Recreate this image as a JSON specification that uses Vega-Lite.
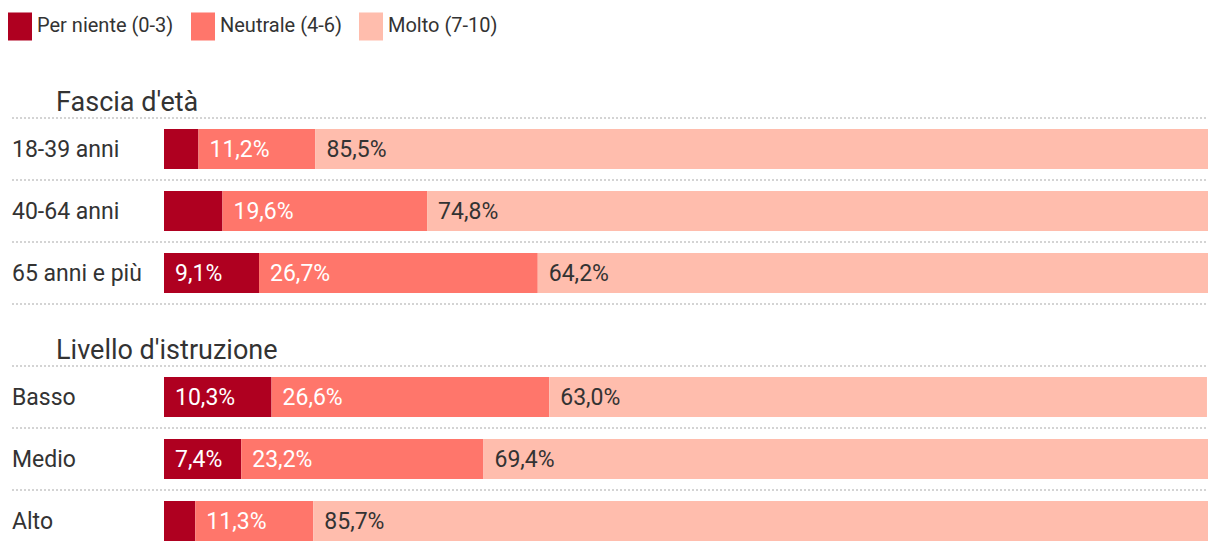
{
  "$schema": "https://vega.github.io/schema/vega-lite/v6.json",
  "width": 1220,
  "height": 496,
  "autosize": {"type": "none"},
  "padding": {"top": 56, "left": 0, "right": 0, "bottom": 2},
  "config": {
    "view": {"stroke": null},
    "font": "Roboto",
    "text": {"font": "Roboto"}
  },
  "datasets": {
    "rows": [
      {"row": "H1", "label": "Fascia d'età", "kind": "header"},
      {"row": "18-39 anni", "label": "18-39 anni", "kind": "item"},
      {"row": "40-64 anni", "label": "40-64 anni", "kind": "item"},
      {"row": "65 anni e più", "label": "65 anni e più", "kind": "item"},
      {"row": "H2", "label": "Livello d'istruzione", "kind": "header"},
      {"row": "Basso", "label": "Basso", "kind": "item"},
      {"row": "Medio", "label": "Medio", "kind": "item"},
      {"row": "Alto", "label": "Alto", "kind": "item"}
    ],
    "bars": [
      {"row": "18-39 anni", "cat": "Per niente (0-3)", "order": 1, "value": 3.3},
      {"row": "18-39 anni", "cat": "Neutrale (4-6)", "order": 2, "value": 11.2},
      {"row": "18-39 anni", "cat": "Molto (7-10)", "order": 3, "value": 85.5},
      {"row": "40-64 anni", "cat": "Per niente (0-3)", "order": 1, "value": 5.6},
      {"row": "40-64 anni", "cat": "Neutrale (4-6)", "order": 2, "value": 19.6},
      {"row": "40-64 anni", "cat": "Molto (7-10)", "order": 3, "value": 74.8},
      {"row": "65 anni e più", "cat": "Per niente (0-3)", "order": 1, "value": 9.1},
      {"row": "65 anni e più", "cat": "Neutrale (4-6)", "order": 2, "value": 26.7},
      {"row": "65 anni e più", "cat": "Molto (7-10)", "order": 3, "value": 64.2},
      {"row": "Basso", "cat": "Per niente (0-3)", "order": 1, "value": 10.3},
      {"row": "Basso", "cat": "Neutrale (4-6)", "order": 2, "value": 26.6},
      {"row": "Basso", "cat": "Molto (7-10)", "order": 3, "value": 63.0},
      {"row": "Medio", "cat": "Per niente (0-3)", "order": 1, "value": 7.4},
      {"row": "Medio", "cat": "Neutrale (4-6)", "order": 2, "value": 23.2},
      {"row": "Medio", "cat": "Molto (7-10)", "order": 3, "value": 69.4},
      {"row": "Alto", "cat": "Per niente (0-3)", "order": 1, "value": 3.0},
      {"row": "Alto", "cat": "Neutrale (4-6)", "order": 2, "value": 11.3},
      {"row": "Alto", "cat": "Molto (7-10)", "order": 3, "value": 85.7}
    ]
  },
  "resolve": {"scale": {"x": "shared", "y": "shared"}},
  "layer": [
    {
      "data": {"name": "rows"},
      "transform": [{"filter": "datum.row !== 'H1'"}],
      "mark": {"type": "rule", "stroke": "#d4d4d4", "strokeWidth": 2, "strokeDash": [2, 2]},
      "encoding": {
        "y": {"field": "row", "type": "nominal", "bandPosition": 0,
              "scale": {"domain": ["H1", "18-39 anni", "40-64 anni", "65 anni e più", "H2", "Basso", "Medio", "Alto"], "paddingInner": 0, "paddingOuter": 0},
              "axis": null},
        "x": {"datum": -14.56, "type": "quantitative",
              "scale": {"domain": [-15.709, 101.149], "nice": false, "zero": false}, "axis": null},
        "x2": {"datum": 100}
      }
    },
    {
      "data": {"name": "bars"},
      "transform": [
        {"stack": "value", "groupby": ["row"], "sort": [{"field": "order", "order": "ascending"}], "as": ["x0", "x1"]}
      ],
      "mark": {"type": "bar", "height": 40},
      "encoding": {
        "y": {"field": "row", "type": "nominal"},
        "x": {"field": "x0", "type": "quantitative"},
        "x2": {"field": "x1"},
        "color": {
          "field": "cat", "type": "nominal",
          "scale": {"domain": ["Per niente (0-3)", "Neutrale (4-6)", "Molto (7-10)"], "range": ["#af0020", "#ff766b", "#ffbdad"]},
          "legend": {
            "orient": "none", "legendX": 8, "legendY": -42, "direction": "horizontal",
            "title": null,
            "symbolType": "M-1,-1.167H1V1.167H-1Z", "symbolSize": 576,
            "symbolOpacity": 1, "symbolStrokeWidth": 0,
            "labelFont": "Roboto", "labelFontSize": 20, "labelColor": "#333333",
            "labelOffset": 5, "columnPadding": 17, "labelLimit": 300
          }
        }
      }
    },
    {
      "data": {"name": "bars"},
      "transform": [
        {"stack": "value", "groupby": ["row"], "sort": [{"field": "order", "order": "ascending"}], "as": ["x0", "x1"]},
        {"filter": "datum.value >= 6"},
        {"calculate": "replace(format(datum.value, '.1f'), '.', ',') + '%'", "as": "lbl"}
      ],
      "mark": {"type": "text", "align": "left", "baseline": "middle", "dx": 11, "dy": 1, "fontSize": 23, "font": "Roboto"},
      "encoding": {
        "y": {"field": "row", "type": "nominal"},
        "x": {"field": "x0", "type": "quantitative"},
        "text": {"field": "lbl"},
        "color": {
          "condition": {"test": "datum.order === 3", "value": "#333333"},
          "value": "#ffffff"
        }
      }
    },
    {
      "data": {"name": "rows"},
      "transform": [{"filter": "datum.kind === 'item'"}],
      "mark": {"type": "text", "align": "left", "baseline": "middle", "dy": 1, "fontSize": 23, "color": "#333333", "font": "Roboto"},
      "encoding": {
        "y": {"field": "row", "type": "nominal"},
        "x": {"datum": -14.56, "type": "quantitative"},
        "text": {"field": "label"}
      }
    },
    {
      "data": {"name": "rows"},
      "transform": [{"filter": "datum.kind === 'header'"}],
      "mark": {"type": "text", "align": "left", "baseline": "alphabetic", "dy": 24, "fontSize": 27, "color": "#333333", "font": "Roboto"},
      "encoding": {
        "y": {"field": "row", "type": "nominal"},
        "x": {"datum": -10.34, "type": "quantitative"},
        "text": {"field": "label"}
      }
    }
  ]
}
